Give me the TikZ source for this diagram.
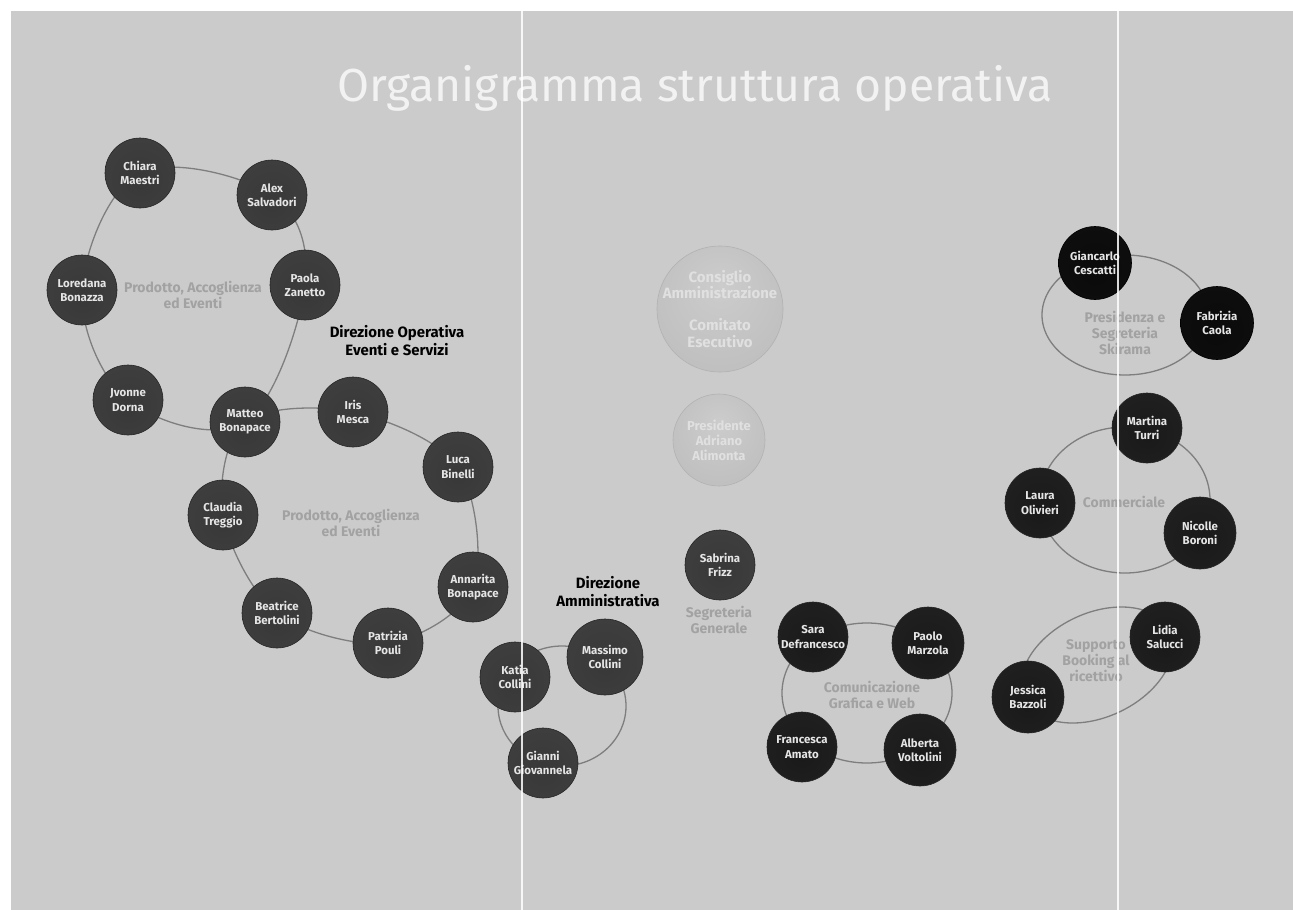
\documentclass[tikz,border=0pt]{standalone}
\usepackage{fontspec}
\setmainfont{Fira Sans}
\definecolor{bg}{HTML}{CBCBCB}
\definecolor{ringc}{HTML}{7E7E7E}
\definecolor{lblc}{HTML}{A2A2A2}
\pgfdeclarelayer{paper}
\pgfdeclarelayer{rings}
\pgfdeclarelayer{over}
\pgfsetlayers{paper,rings,main,over}
\pgfdeclareradialshading{beadg}{\pgfpoint{0bp}{-6bp}}{color(0bp)=(black!78); color(36bp)=(black!75); color(47bp)=(black!63); color(53bp)=(black!72); color(58bp)=(black!84)}
\pgfdeclareradialshading{beadk}{\pgfpoint{0bp}{-6bp}}{color(0bp)=(black!90); color(36bp)=(black!87); color(47bp)=(black!76); color(53bp)=(black!85); color(58bp)=(black!95)}
\pgfdeclareradialshading{beadkk}{\pgfpoint{0bp}{-6bp}}{color(0bp)=(black!96); color(40bp)=(black!94); color(50bp)=(black!86); color(58bp)=(black)}
\pgfdeclareradialshading{beadf}{\pgfpoint{0bp}{10bp}}{color(0bp)=(black!20); color(30bp)=(black!25); color(55bp)=(black!30)}
\begin{document}
\begin{tikzpicture}[x=1bp,y=-1bp,
  base/.style={circle, minimum size=70bp, inner sep=0pt, align=center, text=white!90!black,
    font=\bfseries\fontsize{11.5}{14.5}\selectfont, draw=black!85, line width=0.6bp},
  gp/.style={base, shading=beadg},
  bk/.style={base, shading=beadk},
  bkk/.style={base, shading=beadkk, draw=black},
  fade/.style={base, shading=beadf, draw=black!30, text=white!88!black, font=\bfseries\fontsize{13}{15}\selectfont},
  ring/.style={draw=ringc, line width=1.3bp},
  lbl/.style={text=lblc, align=center, font=\bfseries\fontsize{14}{16}\selectfont},
  head/.style={text=black, align=center, font=\bfseries\fontsize{15}{18}\selectfont},
  ttl/.style={text=white!95!black, font=\fontsize{46.5}{50}\selectfont}
]
\useasboundingbox (0,0) rectangle (1293,910);
\begin{pgfonlayer}{paper}
\fill[white] (0,0) rectangle (1293,910);
\fill[bg] (11,11) rectangle (1293,910);
\end{pgfonlayer}

% title
\node[ttl] (title) at (695,88) {Organigramma struttura operativa};

% ring centres
\coordinate (cAmm) at (562,706);
\coordinate (cCom) at (867,693);
\coordinate (cPres) at (1125,315);
\coordinate (cComm) at (1125,500);
\coordinate (cSup) at (1097,665);

% people
\path
  (140,173) node[gp] (chiara) {Chiara\\Maestri}
  (272,195) node[gp] (alex) {Alex\\Salvadori}
  (305,285) node[gp] (paola) {Paola\\Zanetto}
  (82,290)  node[gp] (loredana) {Loredana\\Bonazza}
  (128,400) node[gp] (jvonne) {Jvonne\\Dorna}
  (245,422) node[gp] (matteo) {Matteo\\Bonapace}
  (353,412) node[gp] (iris) {Iris\\Mesca}
  (458,467) node[gp] (luca) {Luca\\Binelli}
  (223,515) node[gp] (claudia) {Claudia\\Treggio}
  (473,587) node[gp] (annarita) {Annarita\\Bonapace}
  (277,613) node[gp] (beatrice) {Beatrice\\Bertolini}
  (388,643) node[gp] (patrizia) {Patrizia\\Pouli}
  (515,677) node[gp] (katia) {Katia\\Collini}
  (605,657) node[gp, minimum size=76bp] (massimo) {Massimo\\Collini}
  (543,763) node[gp] (gianni) {Gianni\\Giovannela}
  (720,565) node[gp] (sabrina) {Sabrina\\Frizz}
  (720,309) node[fade, minimum size=126bp, inner sep=-8bp, font=\bfseries\fontsize{15}{17}\selectfont] (consiglio) {Consiglio\\Amministrazione\\[15bp]Comitato\\Esecutivo}
  (719,440) node[fade, minimum size=92bp] (presidente) {Presidente\\Adriano\\Alimonta}
  (813,637) node[bk] (sara) {Sara\\Defrancesco}
  (928,643) node[bk, minimum size=72bp] (paolo) {Paolo\\Marzola}
  (802,747) node[bk] (francesca) {Francesca\\Amato}
  (920,750) node[bk, minimum size=72bp] (alberta) {Alberta\\Voltolini}
  (1095,263) node[bkk, minimum size=73bp] (giancarlo) {Giancarlo\\Cescatti}
  (1217,323) node[bkk, minimum size=73bp] (fabrizia) {Fabrizia\\Caola}
  (1147,428) node[bk] (martina) {Martina\\Turri}
  (1040,503) node[bk] (laura) {Laura\\Olivieri}
  (1200,533) node[bk, minimum size=72bp] (nicolle) {Nicolle\\Boroni}
  (1165,637) node[bk] (lidia) {Lidia\\Salucci}
  (1028,697) node[bk, minimum size=72bp] (jessica) {Jessica\\Bazzoli};

% rings behind the nodes
\begin{pgfonlayer}{rings}
\draw[ring] plot[smooth cycle, tension=0.6] coordinates {(chiara) (alex) (paola) (matteo) (jvonne) (loredana)};
\draw[ring] plot[smooth cycle, tension=0.55] coordinates {(matteo) (iris) (luca) (annarita) (patrizia) (beatrice) (claudia)};
\draw[ring] (cAmm) ellipse [x radius=64, y radius=60];
\draw[ring] (cCom) ellipse [x radius=85, y radius=70];
\draw[ring] (cPres) ellipse [x radius=83, y radius=60];
\draw[ring] (cComm) ellipse [x radius=85, y radius=73];
\draw[ring, rotate around={25:(cSup)}] (cSup) ellipse [x radius=80, y radius=52];
\end{pgfonlayer}

% group labels
\node[lbl] (l1) at (193,295) {Prodotto, Accoglienza\\ed Eventi};
\node[lbl] (l2) at (351,523) {Prodotto, Accoglienza\\ed Eventi};
\node[lbl] (l3) at (719,620) {Segreteria\\Generale};
\node[lbl] (l4) at (872,695) {Comunicazione\\Grafica e Web};
\node[lbl] (l5) at (1125,333) {Presidenza e\\Segreteria\\Skirama};
\node[lbl] (l6) at (1124,502) {Commerciale};
\node[lbl] (l7) at (1096,661) {Supporto\\Booking al\\ricettivo};
\node[head] (h1) at (397,341) {Direzione Operativa\\Eventi e Servizi};
\node[head] (h2) at (608,592) {Direzione\\Amministrativa};

% white guide lines
\begin{pgfonlayer}{over}
\coordinate (v1t) at (522,11); \coordinate (v1b) at (522,910);
\coordinate (v2t) at (1118,11); \coordinate (v2b) at (1118,910);
\draw[white, opacity=0.85, line width=2.5bp] (v1t) -- (v1b);
\draw[white, opacity=0.85, line width=2.5bp] (v2t) -- (v2b);
\end{pgfonlayer}
\end{tikzpicture}
\end{document}
